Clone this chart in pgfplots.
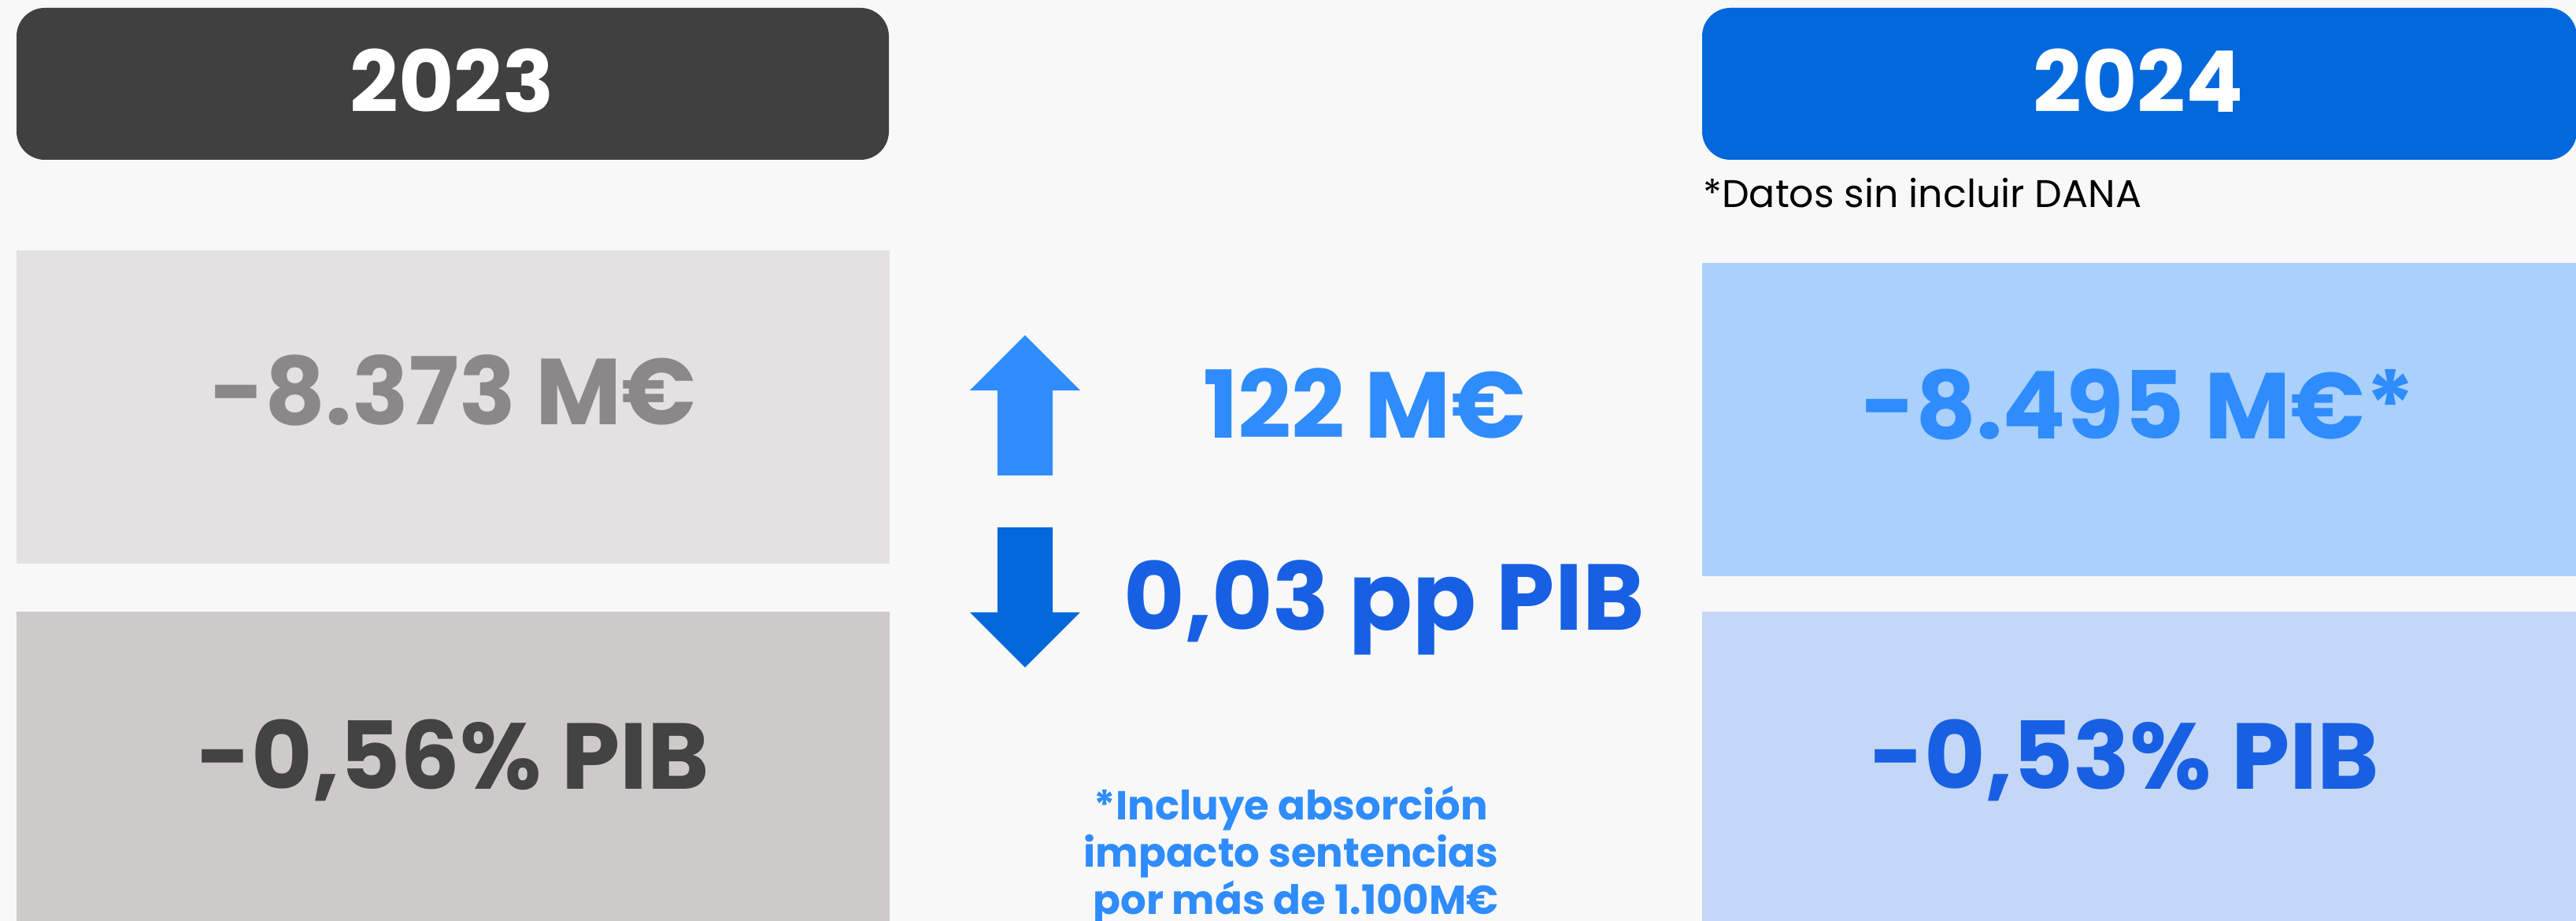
\documentclass[border=0pt]{standalone}
\usepackage{fontspec}
\setmainfont{Poppins}
\usepackage{pgfplots}
\pgfplotsset{compat=1.18}
\definecolor{bg}{HTML}{F8F8F8}
\definecolor{hdA}{HTML}{404040}
\definecolor{hdB}{HTML}{0268DB}
\definecolor{grayA}{HTML}{E3E1E1}
\definecolor{grayB}{HTML}{CDCAC9}
\definecolor{txtA}{HTML}{8A8888}
\definecolor{txtB}{HTML}{434343}
\definecolor{blueA}{HTML}{AAD0FC}
\definecolor{blueB}{HTML}{C5D7F6}
\definecolor{midblue}{HTML}{2E8CFC}
\definecolor{darkblue}{HTML}{1760E3}
\begin{document}
\begin{tikzpicture}
\begin{axis}[
  width=1636pt, height=585pt, scale only axis,
  xmin=0, xmax=3272, ymin=0, ymax=1170, y dir=reverse,
  hide axis, clip=true,
]
% background
\addplot[fill=bg, draw=none] coordinates {(0,0) (3272,0) (3272,1170) (0,1170)} -- cycle;
% headers
\addplot[fill=hdA, draw=none, rounded corners=18pt] coordinates {(21,10) (1129,10) (1129,203) (21,203)} -- cycle;
\addplot[fill=hdB, draw=none, rounded corners=18pt] coordinates {(2162,10) (3273,10) (3273,203) (2162,203)} -- cycle;
% 2023 boxes
\addplot[fill=grayA, draw=none] coordinates {(21,318) (1130,318) (1130,716) (21,716)} -- cycle;
\addplot[fill=grayB, draw=none] coordinates {(21,777) (1130,777) (1130,1175) (21,1175)} -- cycle;
% 2024 boxes
\addplot[fill=blueA, draw=none] coordinates {(2162,334) (3275,334) (3275,732) (2162,732)} -- cycle;
\addplot[fill=blueB, draw=none] coordinates {(2162,777) (3275,777) (3275,1175) (2162,1175)} -- cycle;
% arrows
\addplot[fill=midblue, draw=none] coordinates {(1302,426) (1372,496) (1337,496) (1337,604) (1267,604) (1267,496) (1232,496)} -- cycle;
\addplot[fill=hdB, draw=none] coordinates {(1267,670) (1337,670) (1337,778) (1372,778) (1302,848) (1232,778) (1267,778)} -- cycle;
% texts
\node[anchor=base, text=white, font=\fontsize{54}{60}\selectfont\bfseries] at (axis cs:574,143) {2023};
\node[anchor=base, text=white, font=\fontsize{54}{60}\selectfont\bfseries] at (axis cs:2716,143) {2024};
\node[anchor=base west, inner sep=0pt, text=black, font=\fontsize{24.5}{30}\selectfont] at (axis cs:2163,264) {*Datos sin incluir DANA};
\node[anchor=base, text=txtA, font=\fontsize{59.5}{66}\selectfont\bfseries] at (axis cs:576,540) {-8.373 M€};
\node[anchor=base, text=txtB, font=\fontsize{59.5}{66}\selectfont\bfseries] at (axis cs:576,1003) {-0,56\% PIB};
\node[anchor=base, text=midblue, font=\fontsize{59.5}{66}\selectfont\bfseries] at (axis cs:2716,558) {-8.495 M€*};
\node[anchor=base, text=darkblue, font=\fontsize{59.5}{66}\selectfont\bfseries] at (axis cs:2699,1003) {-0,53\% PIB};
\node[anchor=base, text=midblue, font=\fontsize{59.5}{66}\selectfont\bfseries] at (axis cs:1733,557) {122 M€};
\node[anchor=base, text=darkblue, font=\fontsize{59.5}{66}\selectfont\bfseries] at (axis cs:1758,801) {0,03 pp PIB};
\node[anchor=base, text=midblue, font=\fontsize{25.7}{30}\selectfont\bfseries] at (axis cs:1640,1042) {*Incluye absorción};
\node[anchor=base, text=midblue, font=\fontsize{25.7}{30}\selectfont\bfseries] at (axis cs:1640,1102) {impacto sentencias};
\node[anchor=base, text=midblue, font=\fontsize{25.7}{30}\selectfont\bfseries] at (axis cs:1646,1162) {por más de 1.100M€};
\end{axis}
\pgfresetboundingbox
\path (current axis.south west) rectangle (current axis.north east);
\end{tikzpicture}
\end{document}
